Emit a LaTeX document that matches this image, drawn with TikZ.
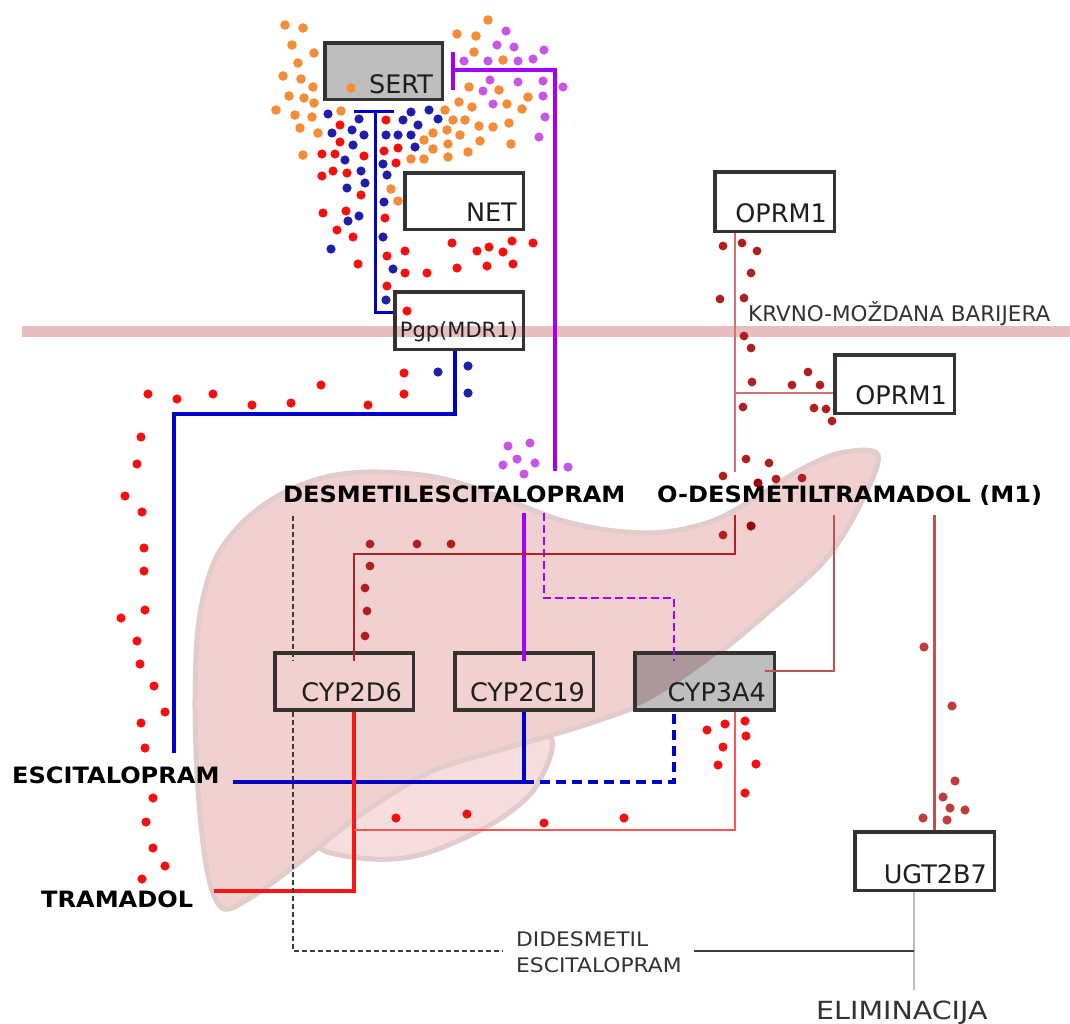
\documentclass[tikz,border=0pt]{standalone}
\usepackage{fontspec}
\setmainfont{DejaVu Sans}
\newfontfamily\bwfont[FakeStretch=1.07]{DejaVu Sans}
\newfontfamily\rwfont[FakeStretch=1.09]{DejaVu Sans}
\newfontfamily\ewfont[FakeStretch=1.14]{DejaVu Sans}
\definecolor{bandc}{RGB}{232,189,189}
\definecolor{boxc}{RGB}{55,50,50}
\definecolor{boxg}{RGB}{190,190,190}
\definecolor{boxgl}{RGB}{172,152,152}
\definecolor{livf}{RGB}{240,209,208}
\definecolor{livl}{RGB}{247,222,222}
\definecolor{livs}{RGB}{226,203,203}
\definecolor{blu}{RGB}{0,0,200}
\definecolor{pur}{RGB}{165,0,245}
\definecolor{red1}{RGB}{255,20,20}
\definecolor{red2}{RGB}{255,85,85}
\definecolor{dred}{RGB}{178,34,34}
\definecolor{mred}{RGB}{196,80,80}
\definecolor{lred}{RGB}{212,112,112}
\definecolor{dgray}{RGB}{60,60,60}
\definecolor{lgray}{RGB}{190,190,190}
\definecolor{orC}{RGB}{245,140,55}
\definecolor{puC}{RGB}{200,85,230}
\definecolor{blC}{RGB}{30,30,170}
\definecolor{reC}{RGB}{245,15,15}
\definecolor{drC}{RGB}{178,30,30}
\definecolor{ddC}{RGB}{160,0,0}
\definecolor{ugC}{RGB}{190,60,60}
\definecolor{txt}{RGB}{30,30,30}
\definecolor{txt2}{RGB}{50,50,50}
\tikzset{
  box/.style={draw=boxc,line width=3.5pt,inner sep=0pt,minimum height=57pt},
  blab/.style={inner sep=0pt,anchor=base east,text=txt,font=\fontsize{25.5}{30}\selectfont},
  bl/.style={inner sep=0pt,anchor=base west,text=black,font=\bwfont\bfseries\fontsize{22.5}{26}\selectfont},
  rl/.style={inner sep=0pt,anchor=base west,text=txt2,font=\rwfont\fontsize{20}{26}\selectfont},
  bline/.style={blu,line width=3.5pt},
  pline/.style={pur,line width=3.5pt},
  rthick/.style={red1,line width=3.5pt},
  rthin/.style={red2,line width=2pt},
  drline/.style={dred,line width=2pt},
  mrline/.style={mred,line width=2pt},
  ugline/.style={mred,line width=3pt},
  opline/.style={lred,line width=2.5pt},
}
\def\liverpath{plot[smooth cycle,tension=0.55] coordinates {
    (878,455) (840,453) (800,470) (760,495) (715,520) (665,532) (615,531) (560,520) (500,497)
    (440,478) (380,472) (330,476) (285,492) (245,520) (215,560) (199,620) (195,700) (198,790)
    (207,870) (222,908) (250,898) (300,862) (360,815) (430,772) (500,750) (545,737) (600,720)
    (650,700) (710,660) (765,615) (825,560) (860,505)}}
\begin{document}
\begin{tikzpicture}[x=1pt,y=-1pt]
\useasboundingbox (0,0) rectangle (1070,1023);
% blood-brain barrier band
\fill[bandc] (22,326) rectangle (1070,337);
\node[rl,text=txt2,font=\fontsize{21.5}{26}\selectfont] (bbb) at (748,321) {KRVNO-MOŽDANA BARIJERA};

% liver
\filldraw[fill=livl,draw=livs,line width=5pt] plot[smooth cycle,tension=0.6] coordinates {
    (548,735) (540,780) (510,812) (460,840) (410,857) (360,858) (318,846) (335,815) (390,770) (470,742)};
\filldraw[fill=livf,draw=livs,line width=5pt] \liverpath;

% boxes
\node[box,fill=boxg,minimum width=117.5pt,minimum height=56.5pt] (sert) at (383.5,71) {};
\node[box,fill=white,minimum width=118.5pt,minimum height=56.5pt] (net) at (464,201) {};
\node[box,minimum width=128.5pt,minimum height=57.5pt] (pgp) at (459,320.5) {};
\node[box,fill=white,minimum width=119.5pt,minimum height=59.5pt] (oprma) at (774.5,201.5) {};
\node[box,fill=white,minimum width=119.5pt,minimum height=58.5pt] (oprmb) at (894.5,384) {};
\node[box,minimum width=138.5pt] (cyp2d6) at (344,681.5) {};
\node[box,minimum width=138.5pt] (cyp2c19) at (524,681.5) {};
\node[box,fill=boxg,minimum width=139.5pt] (cyp3a4) at (704.5,681.5) {};
\begin{scope}
  \clip (cyp3a4.south west) rectangle (cyp3a4.north east);
  \fill[boxgl] \liverpath;
\end{scope}
\node[box,minimum width=139.5pt] at (cyp3a4) {};
\node[box,fill=white,minimum width=139.5pt,minimum height=58.5pt] (ugt) at (924.5,861) {};

\node[blab] (sertt) at (433,93) {SERT};
\node[blab] (nett) at (517,221) {NET};
\node[blab,font=\fontsize{21}{26}\selectfont] (pgpt) at (518,337) {Pgp(MDR1)};
\node[blab] (oprmat) at (827,222) {OPRM1};
\node[blab] (oprmbt) at (947,404) {OPRM1};
\node[blab] (cyp2d6t) at (402,701) {CYP2D6};
\node[blab] (cyp2c19t) at (585,701) {CYP2C19};
\node[blab] (cyp3a4t) at (766,701) {CYP3A4};
\node[blab] (ugtt) at (987,883) {UGT2B7};

% labels of substances
\node[bl] (desm) at (283,502) {DESMETILESCITALOPRAM};
\node[bl] (odes) at (657,502) {O-DESMETILTRAMADOL (M1)};
\node[bl] (esc) at (12,783) {ESCITALOPRAM};
\node[bl] (tram) at (41,907) {TRAMADOL};
\node[rl] (didt) at (516,946) {DIDESMETIL};
\node[rl] (dide) at (516,972) {ESCITALOPRAM};
\node[rl,font=\ewfont\fontsize{25}{30}\selectfont] (elim) at (816,1019) {ELIMINACIJA};

% blue (escitalopram)
\draw[bline,line width=3pt] (pgp.west |- 0,312) -- (375,312) -- (375,111);
\draw[bline,line width=3pt] (354,111) -- (394,111);
\draw[bline] (455,0 |- pgp.south) -- (455,414) -- (174,414) -- (174,753);
\draw[bline] (233,782) -- (524,782);
\draw[bline] (cyp2c19.south) -- (524,782);
\draw[bline,dash pattern=on 10pt off 6pt] (524,782) -- (674,782) -- (674,0 |- cyp3a4.south);

% purple
\draw[pline] (453,52) -- (453,90);
\draw[pline] (453,70) -- (555,70) -- (555,471);
\draw[pline] (524,513) -- ([yshift=-10pt]cyp2c19.north);
\draw[pline,line width=2.5pt,dash pattern=on 8pt off 4pt] (544,513) -- (544,598) -- (674,598) -- (674,661);

% red (tramadol)
\draw[rthick] (214,891) -- (354,891) -- (354,0 |- cyp2d6.south);
\draw[rthin] (354,830) -- (735,830) -- (735,0 |- cyp3a4.south);

% dark red (M1)
\draw[drline] (735,515) -- (735,554) -- (354,554) -- (354,661);
\draw[mrline] (834,515) -- (834,671) -- (765,671);
\draw[ugline] (934,515) -- (934,0 |- ugt.north);
\draw[opline] (735,0 |- oprma.south) -- (735,472);
\draw[opline] (735,393) -- (oprmb.west |- 0,393);

% didesmetil & elimination
\draw[dgray,line width=1.5pt,dash pattern=on 5pt off 3pt] (293,516) -- (293,661);
\draw[dgray,line width=1.5pt,dash pattern=on 5pt off 3pt] (293,0 |- cyp2d6.south) -- (293,951) -- (503,951);
\draw[lgray,line width=2.5pt] (914,0 |- ugt.south) -- (914,990);
\draw[dgray,line width=2pt] (694,951) -- (914,951);

% dots
\foreach \p in {(285,25),(303,28),(488,20),(292,45),(314,53),(457,34),(476,36),(474,52),(298,63),(503,60),(283,76),(301,79),(313,87),(469,87),(499,90),(289,96),(304,98),(314,103),(528,97),(459,102),(472,107),(507,104),(522,109),(276,110),(295,115),(312,117),(341,111),(445,110),(453,120),(465,120),(479,126),(493,127),(509,123),(300,128),(318,133),(424,140),(433,133),(447,130),(460,135),(480,141),(511,144),(303,155),(411,159),(424,159),(433,149),(448,144),(448,157),(468,152),(391,189),(398,201),(351,88)}
  \fill[orC] \p circle (4.8pt);
\foreach \p in {(506,31),(497,45),(514,47),(544,50),(464,61),(488,61),(518,61),(533,59),(490,80),(518,82),(543,81),(563,87),(483,91),(493,104),(543,96),(545,117),(539,137),(508,446),(530,443),(517,459),(535,463),(503,465),(524,474),(568,467)}
  \fill[puC] \p circle (4.6pt);
\foreach \p in {(328,114),(359,119),(411,112),(429,110),(403,120),(438,119),(418,125),(332,133),(352,130),(364,135),(386,135),(398,135),(411,135),(353,145),(415,147),(345,160),(383,164),(361,171),(387,175),(365,183),(347,188),(384,202),(359,216),(348,221),(383,237),(331,249),(393,269),(386,300),(438,372),(468,366),(468,393)}
  \fill[blC] \p circle (4.6pt);
\foreach \p in {(340,125),(386,120),(340,142),(322,154),(335,154),(364,156),(384,151),(398,148),(396,163),(322,176),(333,171),(347,173),(361,195),(385,218),(323,213),(346,211),(337,230),(353,237),(358,264),(387,256),(405,251),(405,273),(427,273),(387,286),(407,311),(452,243),(477,251),(489,247),(503,252),(512,241),(533,243),(457,268),(487,266),(513,264),
  (148,394),(177,399),(213,394),(252,405),(291,403),(321,385),(368,405),(404,373),(404,394),
  (141,437),(137,464),(125,496),(142,512),(144,548),(144,571),(145,610),(121,618),(137,641),(140,664),(154,686),(165,712),(141,723),(145,748),(153,798),(146,822),(153,848),(165,866),(142,879),
  (707,730),(725,724),(745,721),(746,736),(723,747),(718,765),(756,764),(745,793),
  (396,818),(467,814),(544,823),(624,818)}
  \fill[reC] \p circle (4.6pt);
\foreach \p in {(723,246),(742,243),(757,251),(751,273),(720,299),(744,298),(744,336),(751,348),(752,382),(792,385),(808,372),(820,385),(743,407),(814,408),(826,409),(832,421),(746,459),(769,463),(723,476),(776,479),(802,478),(723,535),
  (370,544),(417,544),(451,544),(370,566),(365,588),(367,611),(365,636)}
  \fill[drC] \p circle (4.4pt);
\foreach \p in {(758,483),(751,526)}
  \fill[ddC] \p circle (4.6pt);
\foreach \p in {(924,647),(952,706),(955,781),(943,797),(950,808),(965,810),(923,818),(947,820)}
  \fill[ugC] \p circle (4.6pt);
\end{tikzpicture}
\end{document}
